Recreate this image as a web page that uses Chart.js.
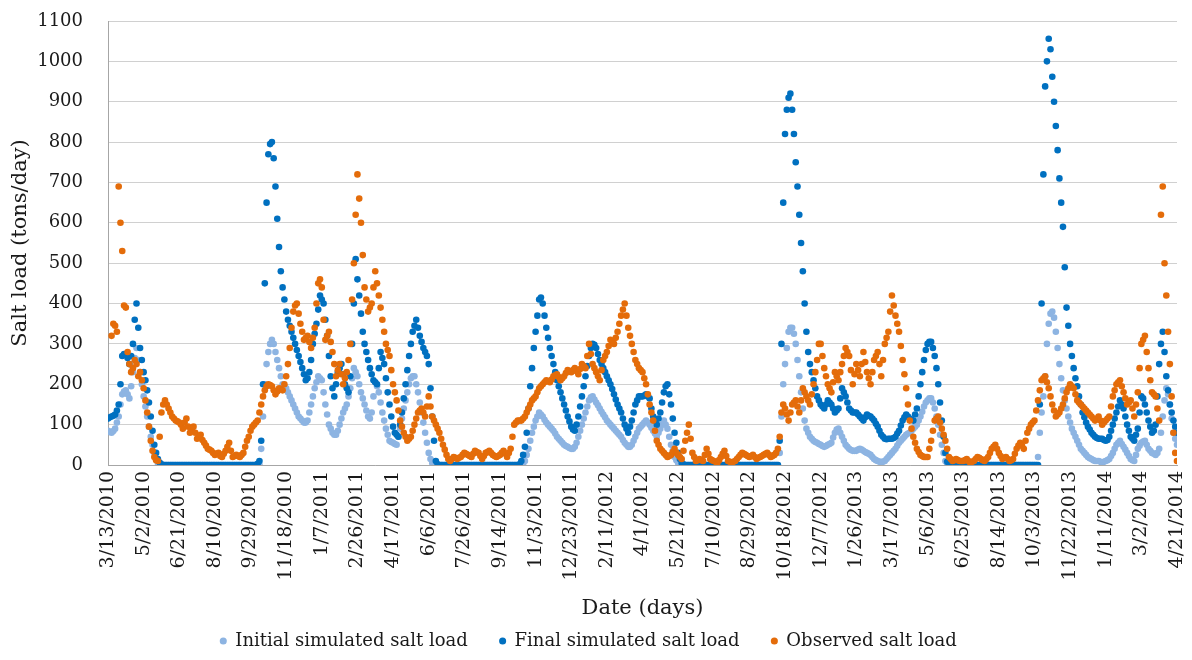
<!DOCTYPE html>
<html>
<head>
<meta charset="utf-8">
<script src="https://cdn.jsdelivr.net/npm/chart.js@4.4.0/dist/chart.umd.min.js"></script>
<style>
  body { margin: 0; background: #fff; }
  canvas { display: block; }
</style>
</head>
<body>
<canvas id="salt_chart" width="1192" height="660"></canvas>
<script>
// tick labels every 50 days, starting 3/13/2010
var dateLabels = ["3/13/2010","5/2/2010","6/21/2010","8/10/2010","9/29/2010","11/18/2010","1/7/2011","2/26/2011",
    "4/17/2011","6/6/2011","7/26/2011","9/14/2011","11/3/2011","12/23/2011","2/11/2012","4/1/2012","5/21/2012",
    "7/10/2012","8/29/2012","10/18/2012","12/7/2012","1/26/2013","3/17/2013","5/6/2013","6/25/2013","8/14/2013",
    "10/3/2013","11/22/2013","1/11/2014","3/2/2014","4/21/2014"];
var labelEvery = 50;
var dayStep = 2.5; // values, one per 2.5 days (one line = 50 days)

var initialLoad = [
    85, 82, 80, 84, 90, 105, 120, 150, 175, 182, 185, 175, 165, 195, 230, 265, 290, 260, 230, 200,
    170, 145, 120, 95, 70, 50, 30, 15, 5, 2, 0, 0, 0, 0, 0, 0, 0, 0, 0, 0,
    0, 0, 0, 0, 0, 0, 0, 0, 0, 0, 0, 0, 0, 0, 0, 0, 0, 0, 0, 0,
    0, 0, 0, 0, 0, 0, 0, 0, 0, 0, 0, 0, 0, 0, 0, 0, 0, 0, 0, 0,
    0, 0, 0, 0, 0, 0, 40, 120, 200, 250, 280, 300, 310, 300, 280, 260, 240, 220, 200, 195,
    190, 180, 170, 160, 150, 140, 130, 120, 115, 110, 105, 105, 110, 130, 150, 170, 190, 205, 220, 215,
    210, 180, 150, 125, 100, 90, 80, 75, 75, 85, 100, 115, 130, 140, 150, 170, 190, 215, 240, 230,
    220, 200, 180, 165, 150, 135, 120, 115, 130, 170, 205, 195, 180, 155, 130, 110, 90, 75, 60, 57,
    55, 52, 50, 70, 90, 115, 140, 160, 180, 200, 215, 220, 220, 200, 180, 155, 130, 105, 80, 55,
    30, 15, 5, 2, 0, 0, 0, 0, 0, 0, 0, 0, 0, 0, 0, 0, 0, 0, 0, 0,
    0, 0, 0, 0, 0, 0, 0, 0, 0, 0, 0, 0, 0, 0, 0, 0, 0, 0, 0, 0,
    0, 0, 0, 0, 0, 0, 0, 0, 0, 0, 0, 0, 0, 0, 10, 25, 40, 60, 80, 95,
    110, 120, 130, 125, 120, 112, 105, 100, 95, 90, 85, 78, 70, 65, 60, 55, 50, 47, 45, 42,
    40, 40, 45, 55, 70, 85, 100, 115, 130, 145, 160, 168, 170, 162, 155, 148, 140, 132, 125, 118,
    110, 105, 100, 95, 90, 85, 80, 75, 70, 62, 55, 50, 45, 45, 50, 60, 70, 80, 90, 95,
    100, 105, 110, 105, 100, 92, 85, 78, 70, 80, 90, 100, 110, 100, 90, 70, 50, 35, 20, 12,
    5, 2, 0, 0, 0, 0, 0, 0, 0, 0, 0, 0, 0, 0, 0, 0, 0, 0, 0, 0,
    0, 0, 0, 0, 0, 0, 0, 0, 0, 0, 0, 0, 0, 0, 0, 0, 0, 0, 0, 0,
    0, 0, 0, 0, 0, 0, 0, 0, 0, 0, 0, 0, 0, 0, 0, 0, 0, 30, 120, 200,
    250, 290, 330, 340, 340, 325, 300, 260, 220, 180, 140, 110, 90, 80, 70, 65, 60, 57, 55, 52,
    50, 47, 45, 47, 50, 52, 55, 68, 80, 88, 90, 80, 70, 60, 50, 45, 40, 37, 35, 35,
    35, 38, 40, 38, 35, 32, 30, 28, 25, 20, 15, 12, 10, 8, 8, 8, 10, 15, 20, 25,
    30, 35, 40, 48, 55, 60, 65, 70, 75, 78, 80, 85, 90, 95, 100, 110, 120, 132, 145, 155,
    160, 165, 165, 155, 140, 120, 100, 75, 50, 30, 10, 3, 0, 0, 0, 0, 0, 0, 0, 0,
    0, 0, 0, 0, 0, 0, 0, 0, 0, 0, 0, 0, 0, 0, 0, 0, 0, 0, 0, 0,
    0, 0, 0, 0, 0, 0, 0, 0, 0, 0, 0, 0, 0, 0, 0, 0, 0, 0, 0, 0,
    0, 0, 20, 80, 130, 170, 220, 300, 350, 375, 380, 365, 330, 290, 250, 215, 185, 160, 140, 120,
    105, 90, 80, 70, 60, 50, 40, 35, 30, 25, 20, 17, 15, 12, 10, 10, 10, 8, 5, 8,
    10, 12, 15, 22, 30, 40, 50, 55, 60, 52, 45, 38, 30, 22, 15, 12, 10, 25, 40, 48,
    55, 58, 60, 50, 40, 35, 30, 28, 25, 30, 40, 80, 120, 160, 190, 175, 150, 115, 80, 65,
    50];

var finalLoad = [
    115, 118, 120, 122, 125, 135, 150, 200, 270, 275, 275, 265, 250, 270, 300, 360, 400, 340, 290, 260,
    230, 210, 185, 155, 120, 85, 50, 30, 15, 6, 2, 0, 0, 0, 0, 0, 0, 0, 0, 0,
    0, 0, 0, 0, 0, 0, 0, 0, 0, 0, 0, 0, 0, 0, 0, 0, 0, 0, 0, 0,
    0, 0, 0, 0, 0, 0, 0, 0, 0, 0, 0, 0, 0, 0, 0, 0, 0, 0, 0, 0,
    0, 0, 0, 0, 3, 10, 60, 200, 450, 650, 770, 795, 800, 760, 690, 610, 540, 480, 440, 410,
    380, 360, 345, 330, 315, 300, 285, 270, 255, 240, 225, 210, 215, 230, 260, 300, 325, 350, 385, 420,
    410, 400, 360, 320, 270, 220, 190, 170, 200, 230, 240, 250, 225, 200, 190, 180, 220, 300, 400, 510,
    460, 420, 375, 330, 300, 280, 260, 240, 225, 210, 205, 200, 240, 280, 265, 250, 215, 180, 150, 120,
    95, 80, 75, 70, 100, 130, 165, 200, 235, 270, 300, 330, 345, 360, 340, 320, 305, 290, 280, 270,
    250, 190, 120, 60, 10, 2, 0, 0, 0, 0, 0, 0, 0, 0, 0, 0, 0, 0, 0, 0,
    0, 0, 0, 0, 0, 0, 0, 0, 0, 0, 0, 0, 0, 0, 0, 0, 0, 0, 0, 0,
    0, 0, 0, 0, 0, 0, 0, 0, 0, 0, 0, 2, 10, 25, 45, 80, 140, 195, 240, 290,
    330, 370, 410, 415, 400, 370, 340, 315, 290, 270, 250, 230, 210, 195, 180, 165, 150, 135, 120, 108,
    95, 88, 85, 100, 120, 145, 170, 195, 220, 245, 270, 290, 300, 298, 290, 275, 260, 250, 240, 230,
    220, 210, 200, 188, 175, 162, 150, 140, 130, 115, 100, 90, 80, 95, 110, 130, 150, 160, 170, 170,
    170, 172, 175, 170, 165, 140, 120, 110, 100, 115, 130, 155, 180, 195, 200, 175, 150, 115, 80, 55,
    30, 15, 5, 2, 0, 0, 0, 0, 0, 0, 0, 0, 0, 0, 0, 0, 0, 0, 0, 0,
    0, 0, 0, 0, 0, 0, 0, 0, 0, 0, 0, 0, 0, 0, 0, 0, 0, 0, 0, 0,
    0, 0, 0, 0, 0, 0, 0, 0, 0, 0, 0, 0, 0, 0, 0, 0, 0, 60, 300, 650,
    820, 880, 910, 920, 880, 820, 750, 690, 620, 550, 480, 400, 330, 280, 250, 230, 210, 190, 170, 160,
    150, 145, 140, 150, 160, 155, 150, 140, 130, 135, 140, 165, 190, 180, 170, 155, 140, 135, 130, 130,
    130, 125, 120, 115, 110, 118, 125, 122, 120, 115, 110, 102, 95, 85, 75, 70, 65, 64, 65, 65,
    65, 67, 70, 78, 85, 98, 110, 118, 125, 120, 115, 112, 110, 125, 140, 170, 200, 230, 260, 285,
    300, 305, 305, 290, 270, 240, 200, 155, 110, 70, 30, 8, 0, 0, 0, 0, 0, 0, 0, 0,
    0, 0, 0, 0, 0, 0, 0, 0, 0, 0, 0, 0, 0, 0, 0, 0, 0, 0, 0, 0,
    0, 0, 0, 0, 0, 0, 0, 0, 0, 0, 0, 0, 0, 0, 0, 0, 0, 0, 0, 0,
    0, 0, 0, 150, 400, 720, 938, 1000, 1056, 1030, 962, 900, 840, 780, 710, 650, 590, 490, 390, 345,
    300, 270, 240, 215, 195, 170, 150, 130, 118, 105, 95, 88, 80, 75, 70, 67, 65, 65, 65, 62,
    60, 62, 70, 85, 100, 115, 130, 145, 160, 150, 140, 120, 100, 85, 70, 65, 60, 75, 90, 130,
    170, 165, 150, 130, 110, 95, 80, 85, 100, 170, 250, 300, 330, 280, 220, 185, 150, 130, 110, 95,
    80];

var observedLoad = [
    null, null, 320, 350, 345, 330, 690, 600, 530, 395, 390, 280, 250, 230, 240, 260, 250, 220, 230, 210,
    190, 160, 130, 95, 60, 35, 20, 12, 10, 70, 130, 150, 160, 150, 140, 130, 120, 115, 110, 108,
    105, 100, 90, 105, 115, 95, 80, 90, 95, 80, 65, 70, 75, 62, 55, 48, 40, 38, 35, 30,
    25, 28, 30, 22, 20, 28, 35, 45, 55, 35, 20, 22, 25, 22, 20, 25, 30, 45, 60, 70,
    85, 95, 100, 105, 110, 130, 150, 170, 185, 195, 200, 198, 195, 185, 175, 182, 190, 188, 185, 200,
    220, 250, 290, 340, 380, 395, 400, 375, 350, 330, 310, 315, 320, 305, 290, 315, 340, 400, 450, 460,
    440, 360, 310, 320, 330, 305, 280, 250, 220, 235, 250, 225, 200, 215, 230, 260, 300, 410, 500, 620,
    720, 660, 600, 520, 440, 410, 380, 390, 400, 440, 480, 450, 420, 390, 360, 330, 300, 285, 270, 235,
    200, 180, 160, 135, 110, 95, 80, 70, 60, 65, 70, 85, 100, 115, 130, 135, 140, 130, 120, 145,
    170, 145, 120, 110, 100, 90, 80, 65, 50, 38, 25, 15, 10, 15, 20, 18, 15, 18, 20, 25,
    30, 28, 25, 22, 20, 28, 35, 32, 30, 22, 15, 22, 30, 32, 35, 30, 25, 22, 20, 22,
    25, 30, 35, 28, 20, 30, 40, 70, 100, 105, 110, 110, 110, 115, 120, 130, 140, 150, 160, 165,
    170, 180, 190, 195, 200, 205, 210, 208, 205, 212, 220, 222, 225, 218, 210, 215, 220, 228, 235, 232,
    230, 235, 240, 232, 225, 238, 250, 245, 240, 270, 300, 275, 250, 240, 230, 220, 210, 235, 260, 270,
    280, 295, 310, 305, 300, 315, 330, 350, 370, 385, 400, 370, 340, 320, 300, 280, 260, 250, 240, 235,
    230, 215, 200, 175, 150, 130, 110, 85, 60, 50, 40, 35, 30, 25, 20, 22, 25, 32, 40, 30,
    25, 20, 15, 35, 60, 80, 100, 65, 30, 20, 10, 12, 15, 12, 10, 25, 40, 28, 15, 12,
    10, 8, 5, 12, 20, 28, 35, 22, 10, 8, 5, 8, 10, 15, 20, 25, 30, 28, 25, 22,
    20, 22, 25, 20, 15, 18, 20, 22, 25, 28, 30, 25, 20, 22, 25, 30, 40, 70, 130, 150,
    140, 125, 110, 130, 150, 155, 160, 145, 130, 160, 190, 180, 170, 160, 150, 175, 200, 230, 260, 300,
    300, 270, 240, 220, 200, 190, 180, 205, 230, 220, 210, 230, 250, 270, 290, 280, 270, 235, 200, 225,
    250, 235, 220, 250, 280, 255, 230, 215, 200, 230, 260, 270, 280, 250, 220, 260, 300, 315, 330, 380,
    420, 395, 370, 350, 330, 295, 260, 225, 190, 150, 110, 90, 70, 55, 40, 32, 25, 22, 20, 20,
    20, 40, 60, 85, 110, 115, 120, 105, 90, 75, 60, 40, 20, 15, 10, 12, 15, 12, 10, 10,
    10, 12, 15, 10, 5, 8, 10, 15, 20, 18, 15, 12, 10, 15, 20, 30, 40, 45, 50, 40,
    30, 22, 15, 18, 20, 15, 10, 12, 15, 28, 40, 48, 55, 48, 40, 60, 80, 90, 100, 105,
    110, 135, 160, 185, 210, 215, 220, 205, 190, 170, 150, 135, 120, 125, 130, 140, 150, 165, 180, 190,
    200, 195, 190, 175, 160, 155, 150, 145, 140, 135, 130, 125, 120, 115, 110, 115, 120, 110, 100, 105,
    110, 115, 120, 145, 170, 185, 200, 205, 210, 195, 180, 165, 150, 155, 160, 140, 120, 150, 180, 240,
    300, 310, 320, 280, 240, 210, 180, 175, 170, 140, 110, 620, 690, 500, 420, 330, 250, 170, 80, 30,
    10];

function toPoints(values) {
    var pts = [];
    values.forEach(function(v, i) {
        if (v !== null) pts.push({ x: i * dayStep, y: v });
    });
    return pts;
}

var serif = "'DejaVu Serif', 'Liberation Serif', serif";
var textColor = "#1a1a1a";
var legendGap = "    "; // extra room between legend entries

var ctx = document.getElementById('salt_chart');
var chart = new Chart(ctx, {
    type: 'scatter',
    data: {
        datasets: [
            { label: "Initial simulated salt load", data: toPoints(initialLoad),
              backgroundColor: "#8db4e2", borderColor: "#8db4e2", order: 3 },
            { label: "Final simulated salt load", data: toPoints(finalLoad),
              backgroundColor: "#0070c0", borderColor: "#0070c0", order: 2 },
            { label: "Observed salt load", data: toPoints(observedLoad),
              backgroundColor: "#e46c0a", borderColor: "#e46c0a", order: 1 }
        ]
    },
    options: {
        responsive: false,
        animation: false,
        devicePixelRatio: 1,
        layout: { padding: { left: 0, right: 15, top: 21, bottom: 0 } },
        elements: { point: { radius: 3.3, hoverRadius: 3.3, borderWidth: 0 } },
        plugins: {
            tooltip: { enabled: false },
            legend: {
                position: 'bottom',
                labels: {
                    usePointStyle: true,
                    pointStyle: 'circle',
                    boxWidth: 6,
                    boxHeight: 5,
                    padding: 9,
                    color: textColor,
                    font: { family: serif, size: 18 },
                    generateLabels: function(c) {
                        var items = Chart.defaults.plugins.legend.labels.generateLabels(c);
                        items.sort(function(a, b) { return a.datasetIndex - b.datasetIndex; });
                        items.forEach(function(it, i) {
                            if (i < items.length - 1) it.text = it.text + legendGap;
                        });
                        return items;
                    }
                }
            }
        },
        scales: {
            x: {
                type: 'linear',
                min: 0,
                max: 1500,
                grid: { display: false, drawTicks: false },
                border: { color: '#a6a6a6' },
                ticks: {
                    stepSize: labelEvery,
                    maxTicksLimit: 31,
                    autoSkip: false,
                    minRotation: 90,
                    maxRotation: 90,
                    padding: 6,
                    color: textColor,
                    font: { family: serif, size: 19 },
                    callback: function(value) {
                        return dateLabels[Math.round(value / labelEvery)];
                    }
                },
                title: { display: true, text: 'Date (days)', color: textColor,
                         font: { family: serif, size: 21 }, padding: { top: 2, bottom: 2 } },
                afterFit: function(scale) {
                    scale.height = 158;
                    scale.paddingLeft = 0;
                    scale.paddingRight = 0;
                }
            },
            y: {
                min: 0,
                max: 1100,
                grid: { color: '#d0d0d0', drawTicks: false },
                border: { color: '#a6a6a6' },
                ticks: {
                    stepSize: 100,
                    maxTicksLimit: 12,
                    padding: 25,
                    color: textColor,
                    font: { family: serif, size: 18 },
                    callback: function(value) { return String(value); }
                },
                title: { display: true, text: 'Salt load (tons/day)', color: textColor,
                         font: { family: serif, size: 21 }, padding: { top: 8, bottom: 0 } },
                afterFit: function(scale) {
                    scale.width = 108;
                    scale.paddingTop = 0;
                    scale.paddingBottom = 0;
                }
            }
        }
    }
});
</script>
</body>
</html>
